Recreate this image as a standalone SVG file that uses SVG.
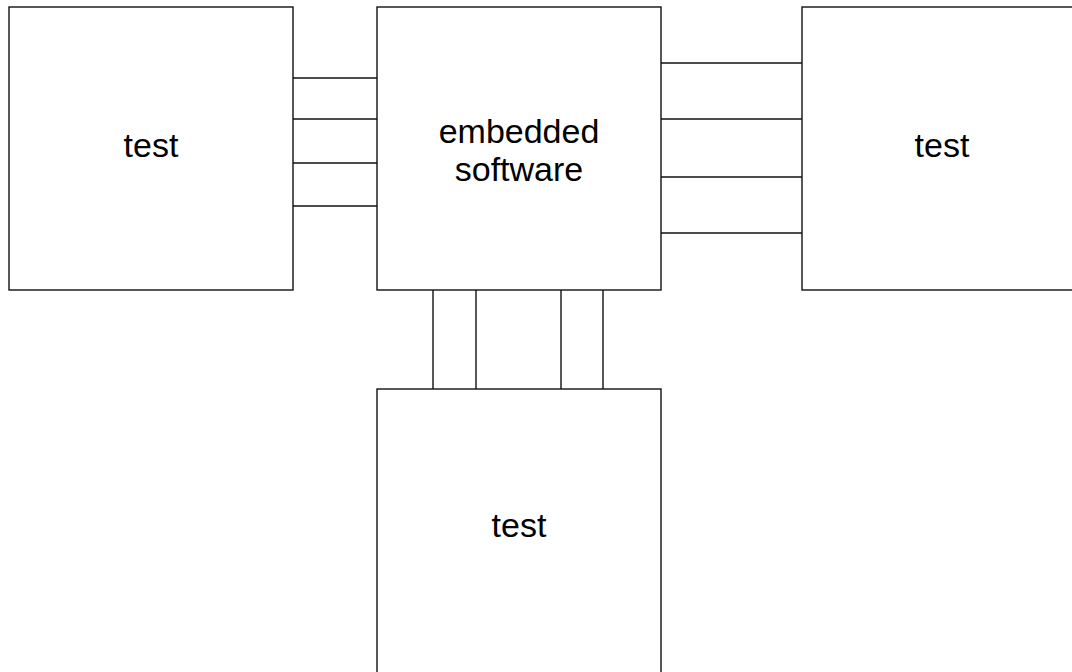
<svg xmlns="http://www.w3.org/2000/svg" width="1072" height="672" viewBox="0 0 1072 672">
<style>
.box{fill:#fff;stroke:#111;stroke-width:1.4}
.ln{stroke:#111;stroke-width:1.4;fill:none}
.t{font-family:"Liberation Sans",Arial,sans-serif;font-size:34px;fill:#000;text-anchor:middle}
</style>
<rect width="1072" height="672" fill="#fff"/>
<g id="connectors">
<line class="ln" x1="293" y1="78" x2="377" y2="78"/>
<line class="ln" x1="293" y1="119" x2="377" y2="119"/>
<line class="ln" x1="293" y1="163" x2="377" y2="163"/>
<line class="ln" x1="293" y1="206" x2="377" y2="206"/>
<line class="ln" x1="661" y1="63" x2="802" y2="63"/>
<line class="ln" x1="661" y1="119" x2="802" y2="119"/>
<line class="ln" x1="661" y1="177" x2="802" y2="177"/>
<line class="ln" x1="661" y1="233" x2="802" y2="233"/>
<line class="ln" x1="433" y1="290" x2="433" y2="389"/>
<line class="ln" x1="476" y1="290" x2="476" y2="389"/>
<line class="ln" x1="561" y1="290" x2="561" y2="389"/>
<line class="ln" x1="603" y1="290" x2="603" y2="389"/>
</g>
<g id="left">
<rect class="box" x="9" y="7" width="284" height="283"/>
<text class="t" x="151" y="157">test</text>
</g>
<g id="center">
<rect class="box" x="377" y="7" width="284" height="283"/>
<text class="t" x="519" y="143">embedded</text>
<text class="t" x="519" y="181">software</text>
</g>
<g id="right">
<rect class="box" x="802" y="7" width="280" height="283"/>
<text class="t" x="942" y="157">test</text>
</g>
<g id="bottom">
<rect class="box" x="377" y="389" width="284" height="300"/>
<text class="t" x="519" y="537">test</text>
</g>
</svg>
